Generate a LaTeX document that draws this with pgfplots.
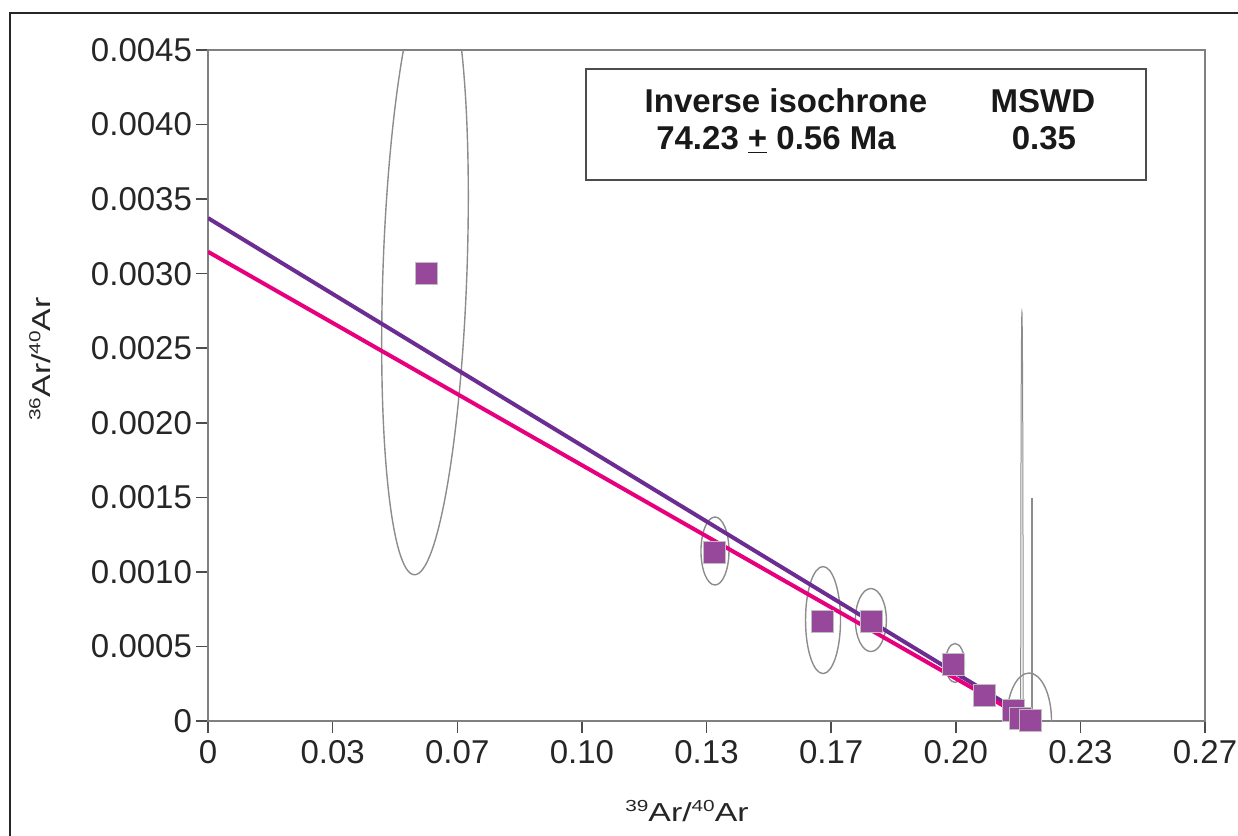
\documentclass[border=0pt]{standalone}
\usepackage{graphicx}
\usepackage{pgfplots}
\pgfplotsset{compat=1.18}
\usepackage{fontspec}
\setmainfont{Liberation Sans}
\definecolor{lpurple}{RGB}{107,45,145}
\definecolor{lpink}{RGB}{230,0,126}
\definecolor{sq}{RGB}{152,72,155}
\definecolor{egray}{RGB}{140,140,140}
\newcommand{\sups}[1]{\raisebox{0.75ex}{\fontsize{8}{9}\selectfont #1}}
\newcommand{\arlabel}[1]{\scalebox{1.3}[1]{\fontsize{13}{15}\selectfont\sups{#1}Ar/\sups{40}Ar}}
\begin{document}
\begin{tikzpicture}[x=1pt,y=1pt]
\useasboundingbox (0,0) rectangle (619,418);
\draw[line width=1pt, black!85] (5,0) -- (5,411.5) -- (619,411.5);
\begin{axis}[
  at={(104pt,57.5pt)}, anchor=south west,
  scale only axis, width=498.5pt, height=335.5pt,
  xmin=0, xmax=0.266667, ymin=0, ymax=0.0045,
  xtick={0,0.033333,0.066667,0.1,0.133333,0.166667,0.2,0.233333,0.266667},
  xticklabels={0,0.03,0.07,0.10,0.13,0.17,0.20,0.23,0.27},
  ytick={0,0.0005,0.001,0.0015,0.002,0.0025,0.003,0.0035,0.004,0.0045},
  yticklabels={0,0.0005,0.0010,0.0015,0.0020,0.0025,0.0030,0.0035,0.0040,0.0045},
  scaled ticks=false,
  tick align=outside, xtick pos=bottom, ytick pos=left,
  major tick length=6pt,
  tick style={line width=0.75pt, color=black!70},
  axis line style={line width=0.75pt, color=black!50},
  ticklabel style={font=\fontsize{16.5}{19}\selectfont, text=black!85},
  yticklabel style={xshift=1.5pt},
  /pgf/number format/assume math mode=true,
  xlabel={\arlabel{39}},
  ylabel={\arlabel{36}},
  label style={text=black!85},
  xlabel style={at={(axis description cs:0.4804,-0.1505)}, anchor=base},
  ylabel style={at={(axis description cs:-0.1685,0.5395)}, anchor=center},
]
% error ellipses
\draw[egray, line width=0.7pt, rotate around={-2:(axis cs:0.05804,0.003025)}] (axis cs:0.05804,0.003025) ellipse [x radius=21pt, y radius=152.5pt];
\draw[egray, line width=0.7pt] (axis cs:0.1356,0.00114) ellipse [x radius=7pt, y radius=17pt];
\draw[egray, line width=0.7pt] (axis cs:0.1645,0.000677) ellipse [x radius=8.75pt, y radius=26.75pt];
\draw[egray, line width=0.7pt] (axis cs:0.1773,0.000677) ellipse [x radius=7.75pt, y radius=15.75pt];
\draw[egray, line width=0.7pt] (axis cs:0.1998,0.000389) ellipse [x radius=4.75pt, y radius=9.75pt];
\draw[egray, line width=0.7pt] (axis cs:0.2196,0) ellipse [x radius=11.25pt, y radius=24pt];
\draw[egray, line width=0.5pt] (axis cs:0.2177,0) ellipse [x radius=0.6pt, y radius=204.5pt];
\draw[egray, line width=1.1pt] (axis cs:0.2204,0) -- (axis cs:0.2204,0.001496);
% regression lines
\addplot[lpurple, line width=2pt] coordinates {(0,0.003373) (0.216,0.000077)};
\addplot[lpink, line width=2pt] coordinates {(0,0.003147) (0.216,0.000056)};
% data
\addplot[only marks, mark=square*, mark size=5.5pt, mark options={fill=sq, draw=black!25, line width=0.3pt}] coordinates {
(0.0583,0.003004) (0.1353,0.001133) (0.1642,0.000671) (0.1773,0.000671)
(0.1993,0.000382) (0.2076,0.000174) (0.2153,0.0000738) (0.2172,0.00002) (0.2199,0.0000067)};
% info box
\draw[black!70, line width=0.6pt] (axis description cs:0.3791,0.8063) rectangle (axis description cs:0.9408,0.9717);
\node[anchor=base, font=\fontsize{16.5}{19}\selectfont\bfseries, text=black!90] at (axis description cs:0.5797,0.9076) {Inverse isochrone};
\node[anchor=base, font=\fontsize{16.5}{19}\selectfont\bfseries, text=black!90] at (axis description cs:0.5697,0.8510) {74.23 \underline{+} 0.56 Ma};
\node[anchor=base, font=\fontsize{16.5}{19}\selectfont\bfseries, text=black!90] at (axis description cs:0.8375,0.9076) {MSWD};
\node[anchor=base, font=\fontsize{16.5}{19}\selectfont\bfseries, text=black!90] at (axis description cs:0.8385,0.8510) {0.35};
\end{axis}
\end{tikzpicture}
\end{document}
